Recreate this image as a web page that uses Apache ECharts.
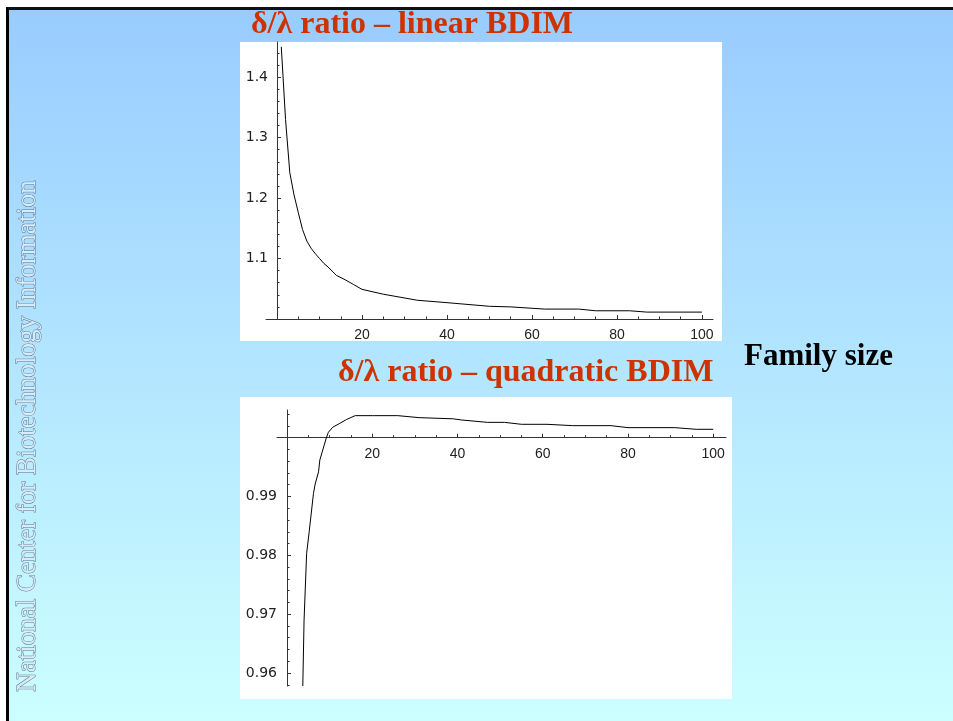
<!DOCTYPE html>
<html>
<head>
<meta charset="utf-8">
<title>delta / lambda ratio - BDIM</title>
<script src="https://cdn.jsdelivr.net/npm/echarts@6/dist/echarts.min.js"></script>
<style>
  html, body { margin: 0; padding: 0; width: 953px; height: 721px; overflow: hidden; background: #fff; }
  #slide {
    position: absolute; left: 6px; top: 7px; width: 947px; height: 714px;
    box-sizing: border-box;
    border-top: 3px solid #111; border-left: 3px solid #000;
    background: linear-gradient(to bottom, #99ccff, #ccffff);
  }
  #chart { position: absolute; left: 0; top: 0; width: 953px; height: 721px; }
</style>
</head>
<body>
<div id="slide"></div>
<div id="chart"></div>
<script>
// linear BDIM, ratio against family size
const xLinear = [1, 2, 3, 4, 5, 6, 7, 8, 9, 10, 11, 12, 14, 16, 18, 20, 25, 33, 40, 50, 55, 63, 71, 75, 83, 87, 100];
const yLinear = [1.450, 1.330, 1.242, 1.205, 1.176, 1.148, 1.129, 1.117, 1.108, 1.100, 1.092, 1.086, 1.072, 1.065, 1.057,
                 1.049, 1.041, 1.031, 1.027, 1.021, 1.020, 1.0164, 1.0164, 1.0136, 1.0136, 1.0114, 1.0114];

// quadratic BDIM
const xQuad = [3.7, 4.0, 4.6, 5.2, 6.2, 6.6, 7.4, 7.7, 9.2, 9.7, 10.7, 12.4, 14, 16, 20, 20.3, 20.6, 26, 31, 39, 41,
               47, 51, 55, 61, 67, 76, 80, 91, 96, 100];
const yQuad = [0.9578, 0.969, 0.9803, 0.9840, 0.9905, 0.9921, 0.9942, 0.9962, 0.9999, 1.0009, 1.00176, 1.00244,
               1.0031, 1.00374, 1.00374, 1.0040, 1.00374, 1.00374, 1.0034, 1.0032, 1.0030, 1.0026, 1.0026,
               1.00227, 1.00227, 1.00204, 1.00204, 1.0017, 1.0017, 1.00142, 1.00142];

// ticks
const xMajorTicks = [20, 40, 60, 80, 100];
const xMinorTicks = [5, 10, 15, 25, 30, 35, 45, 50, 55, 65, 70, 75, 85, 90, 95];
const yLinearMajor = [1.1, 1.2, 1.3, 1.4];
const yLinearMinor = [1.02, 1.04, 1.06, 1.08, 1.12, 1.14, 1.16, 1.18, 1.22, 1.24, 1.26, 1.28,
                      1.32, 1.34, 1.36, 1.38, 1.42, 1.44];
const yQuadMajor = [0.96, 0.97, 0.98, 0.99];
const yQuadMinor = [0.958, 0.962, 0.964, 0.966, 0.968, 0.972, 0.974, 0.976, 0.978, 0.982, 0.984,
                    0.986, 0.988, 0.992, 0.994, 0.996, 0.998];
const yQuadUpperMinor = [1.002, 1.004];

// plot ranges
const linRange = { xMin: -2.6, xMax: 102.6, yMin: 1.0, yMax: 1.458 };
const quadRange = { xMin: -2.35, xMax: 103, yMin: 0.9578, yCross: 1.0, yMax: 1.0047 };

const AXIS_COLOR = '#333';
const xLabelFont = { fontFamily: '"Liberation Sans Narrow", "Liberation Sans", sans-serif', fontSize: 14, color: '#222' };
const yLabelFont = { fontFamily: '"DejaVu Sans", Verdana, sans-serif', fontSize: 14, color: '#222' };
const noSplit = { show: false };
// minor-tick axes keep an invisible line so onZero still places them
const ghostLine = { show: true, onZero: true, lineStyle: { color: AXIS_COLOR, opacity: 0 } };

function xMajor(gridIndex, min, max) {
  return {
    type: 'value', gridIndex, min, max, position: 'bottom',
    axisLine: { show: true, onZero: false, lineStyle: { color: AXIS_COLOR, width: 1 } },
    axisTick: { show: true, inside: true, length: 4, customValues: xMajorTicks, lineStyle: { color: AXIS_COLOR } },
    axisLabel: Object.assign({ customValues: xMajorTicks, margin: 9 }, xLabelFont),
    splitLine: noSplit
  };
}
function xMinor(gridIndex, min, max) {
  return {
    type: 'value', gridIndex, min, max, position: 'bottom',
    axisLine: Object.assign({}, ghostLine, { onZero: false }),
    axisTick: { show: true, inside: true, length: 2.5, customValues: xMinorTicks, lineStyle: { color: AXIS_COLOR } },
    axisLabel: { show: false },
    splitLine: noSplit
  };
}
function xHidden(gridIndex, min, max) {
  return { type: 'value', gridIndex, min, max, position: 'bottom', show: false, splitLine: noSplit };
}
// y axis sits on x = 0; its labels are laid out from the grid edge, hence the margin
function yMajor(gridIndex, min, max, ticks, digits, margin) {
  return {
    type: 'value', gridIndex, min, max, position: 'left',
    axisLine: { show: true, onZero: true, lineStyle: { color: AXIS_COLOR, width: 1 } },
    axisTick: { show: true, inside: true, length: 4, customValues: ticks, lineStyle: { color: AXIS_COLOR } },
    axisLabel: Object.assign({
      show: digits > 0, customValues: ticks, margin,
      formatter: (v) => v.toFixed(digits)
    }, yLabelFont),
    splitLine: noSplit
  };
}
function yMinor(gridIndex, min, max, ticks) {
  return {
    type: 'value', gridIndex, min, max, position: 'left',
    axisLine: ghostLine,
    axisTick: { show: true, inside: true, length: 2.5, customValues: ticks, lineStyle: { color: AXIS_COLOR } },
    axisLabel: { show: false },
    splitLine: noSplit
  };
}

const titleFont = { fontFamily: '"Liberation Serif", "Times New Roman", serif', fontWeight: 'bold' };
const lineStyle = { color: '#000', width: 1 };

// the quadratic plot is split at y = 1 so its x axis can sit on that line
const quadTop = 410, quadHeight = 276;
const upperH = quadHeight * (quadRange.yMax - quadRange.yCross) / (quadRange.yMax - quadRange.yMin);

const chart = echarts.init(document.getElementById('chart'), null, { renderer: 'canvas' });

chart.setOption({
  animation: false,
  backgroundColor: 'transparent',
  graphic: [
    { type: 'rect', z: -10, shape: { x: 240, y: 42, width: 482, height: 299 }, style: { fill: '#fff' } },
    { type: 'rect', z: -10, shape: { x: 240, y: 397, width: 492, height: 302 }, style: { fill: '#fff' } },
    {
      type: 'text', x: 251, y: 25,
      style: Object.assign({ text: 'δ/λ ratio – linear BDIM', fontSize: 32, fill: '#cc3300', align: 'left', verticalAlign: 'middle' }, titleFont)
    },
    {
      type: 'text', x: 338, y: 373,
      style: Object.assign({ text: 'δ/λ ratio – quadratic BDIM', fontSize: 32, fill: '#cc3300', align: 'left', verticalAlign: 'middle' }, titleFont)
    },
    {
      type: 'text', x: 744, y: 356.5,
      style: Object.assign({ text: 'Family size', fontSize: 31, fill: '#000', align: 'left', verticalAlign: 'middle' }, titleFont)
    },
    {
      type: 'text', x: 28, y: 436, rotation: Math.PI / 2,
      style: {
        text: 'National Center for Biotechnology Information',
        fontFamily: '"Liberation Serif", "Times New Roman", serif', fontSize: 27,
        fill: '#d6ecf8', stroke: '#5f7390', lineWidth: 1,
        align: 'center', verticalAlign: 'middle'
      }
    }
  ],
  grid: [
    { left: 266, top: 42, width: 447, height: 277 },
    { left: 277, top: quadTop, width: 449, height: upperH },
    { left: 277, top: quadTop + upperH, width: 449, height: quadHeight - upperH }
  ],
  xAxis: [
    xMajor(0, linRange.xMin, linRange.xMax),
    xMinor(0, linRange.xMin, linRange.xMax),
    xMajor(1, quadRange.xMin, quadRange.xMax),
    xMinor(1, quadRange.xMin, quadRange.xMax),
    xHidden(2, quadRange.xMin, quadRange.xMax),
    xHidden(2, quadRange.xMin, quadRange.xMax)
  ],
  yAxis: [
    yMajor(0, linRange.yMin, linRange.yMax, yLinearMajor, 1, -2),
    yMinor(0, linRange.yMin, linRange.yMax, yLinearMinor),
    yMajor(1, quadRange.yCross, quadRange.yMax, [], 0, 0),
    yMinor(1, quadRange.yCross, quadRange.yMax, yQuadUpperMinor),
    yMajor(2, quadRange.yMin, quadRange.yCross, yQuadMajor, 2, 0),
    yMinor(2, quadRange.yMin, quadRange.yCross, yQuadMinor)
  ],
  series: [
    {
      type: 'line', xAxisIndex: 0, yAxisIndex: 0,
      data: xLinear.map((x, i) => [x, yLinear[i]]),
      showSymbol: false, lineStyle
    },
    {
      type: 'line', xAxisIndex: 2, yAxisIndex: 2, clip: true,
      data: xQuad.map((x, i) => [x, yQuad[i]]),
      showSymbol: false, lineStyle
    },
    {
      type: 'line', xAxisIndex: 4, yAxisIndex: 4, clip: true,
      data: xQuad.map((x, i) => [x, yQuad[i]]),
      showSymbol: false, lineStyle
    }
  ]
});
</script>
</body>
</html>
